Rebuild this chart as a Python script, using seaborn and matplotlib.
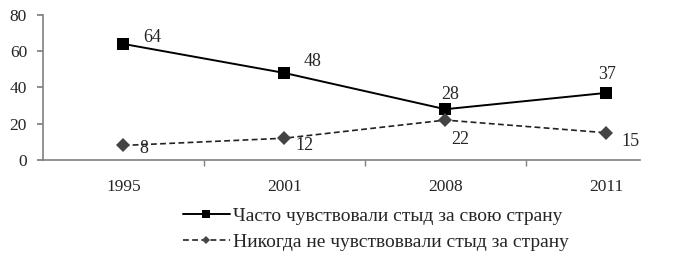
"""Line chart: shame for one's country, 1995-2011."""

import matplotlib
matplotlib.use("Agg")
import matplotlib.pyplot as plt  # noqa: E402
import seaborn as sns  # noqa: E402
import pandas as pd  # noqa: E402

years = ["1995", "2001", "2008", "2011"]
often = [64, 48, 28, 37]
never = [8, 12, 22, 15]
label_often = "Часто чувствовали стыд за свою страну"
label_never = "Никогда не чувствоввали стыд за страну"

# label offsets in pixels relative to each marker
_OFF_OFTEN = [(29, 6), (28, 11), (5, 15), (1, 18)]
_OFF_NEVER = [(20, -3), (20, -7), (15, -19), (24, -9)]

sns.set_theme(style="white")
plt.rcParams["font.family"] = ["Liberation Serif", "DejaVu Serif"]

df_often = pd.DataFrame({"year": years, "value": often})
df_never = pd.DataFrame({"year": years, "value": never})

fig = plt.figure(figsize=(6.86, 2.58), dpi=100)
ax = fig.add_axes([0.0627, 0.38, 0.933 - 0.0627, 0.942 - 0.38])

sns.lineplot(
    data=df_often, x="year", y="value", ax=ax, color="black",
    marker="s", markersize=8, markeredgewidth=0, linewidth=1.4,
    label=label_often,
)
sns.lineplot(
    data=df_never, x="year", y="value", ax=ax, color="#222222",
    marker="D", markersize=7, markeredgewidth=0, linewidth=1.2,
    dashes=False, linestyle=(0, (3.5, 2)), label=label_never,
)
ax.lines[1].set_markerfacecolor("#444444")

for i, (v, off) in enumerate(zip(often, _OFF_OFTEN)):
    ax.annotate(str(v), (i, v), xytext=off, textcoords="offset pixels",
                ha="center", va="center", fontsize=13)
for i, (v, off) in enumerate(zip(never, _OFF_NEVER)):
    ax.annotate(str(v), (i, v), xytext=off, textcoords="offset pixels",
                ha="center", va="center", fontsize=13)

ax.set_xlim(-0.5, 3.21)
ax.set_ylim(0, 80)
ax.set_yticks([0, 20, 40, 60, 80])
ax.set_xlabel("")
ax.set_ylabel("")
ax.set_xticks(range(len(years)))
ax.set_xticklabels(years)
ax.set_xticks([0.5, 1.5, 2.5], minor=True)
ax.tick_params(axis="x", which="major", length=0, pad=14, labelsize=12.5)
ax.tick_params(axis="x", which="minor", length=4, color="#808080",
               direction="out", bottom=True)
ax.tick_params(axis="y", length=4.5, color="#808080", direction="out",
               left=True, pad=7, labelsize=12.5)

for side in ["top", "right"]:
    ax.spines[side].set_visible(False)
for side in ["left", "bottom"]:
    ax.spines[side].set_color("#808080")
    ax.spines[side].set_linewidth(1.2)

handles, labels = ax.get_legend_handles_labels()
ax.get_legend().remove()
fig.legend(
    handles, labels, loc="center left", bbox_to_anchor=(0.267, 0.112),
    frameon=False, fontsize=14, handlelength=2.4, handletextpad=0.15,
    labelspacing=0.4, borderpad=0, borderaxespad=0, markerscale=0.65,
)

fig.savefig("out.png", dpi=100)
plt.close(fig)
